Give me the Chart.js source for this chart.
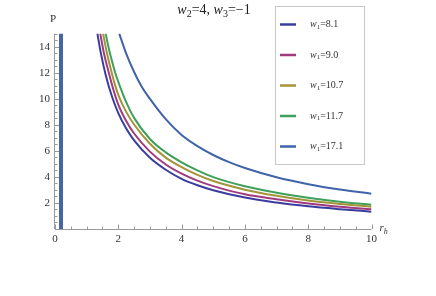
<!DOCTYPE html>
<html>
<head>
<meta charset="utf-8">
<script src="https://cdn.jsdelivr.net/npm/chart.js@4"></script>
<style>
  html, body { margin: 0; padding: 0; background: #fff; }
  canvas { display: block; }
</style>
</head>
<body>
<canvas id="chart" width="436" height="296"></canvas>
<script>
// ---- data ----
const w1Labels = ['8.1', '9.0', '10.7', '11.7', '17.1'];

const rh_81  = [1.34, 1.45, 1.6, 1.8, 2, 2.25, 2.5, 3, 3.5, 4, 4.5, 5, 6, 7, 8, 9, 10];
const p_81   = [15, 13.48, 11.85, 10.17, 8.9, 7.71, 6.8, 5.47, 4.55, 3.85, 3.36, 2.98, 2.41, 2.03, 1.74, 1.52, 1.33];

const rh_90  = [1.43, 1.55, 1.7, 1.85, 2, 2.25, 2.5, 3, 3.5, 4, 4.5, 5, 6, 7, 8, 9, 10];
const p_90   = [15, 13.45, 12.0, 10.65, 9.55, 8.29, 7.33, 5.94, 4.95, 4.25, 3.71, 3.29, 2.66, 2.28, 1.96, 1.71, 1.51];

const rh_107 = [1.52, 1.63, 1.75, 1.88, 2, 2.25, 2.5, 3, 3.5, 4, 4.5, 5, 6, 7, 8, 9, 10];
const p_107  = [15, 13.63, 12.4, 11.2, 10.3, 8.99, 8.02, 6.54, 5.48, 4.75, 4.15, 3.68, 3.02, 2.55, 2.18, 1.92, 1.71];

const rh_117 = [1.6, 1.7, 1.8, 1.9, 2, 2.25, 2.5, 3, 3.5, 4, 4.5, 5, 6, 7, 8, 9, 10];
const p_117  = [15, 13.86, 12.9, 12.02, 11.3, 9.74, 8.53, 6.91, 5.88, 5.12, 4.5, 3.98, 3.28, 2.79, 2.40, 2.10, 1.87];

const rh_171 = [2.03, 2.25, 2.5, 2.75, 3, 3.5, 4, 4.5, 5, 5.5, 6, 7, 8, 9, 10];
const p_171  = [15, 13.46, 12.05, 10.88, 9.99, 8.43, 7.21, 6.36, 5.68, 5.13, 4.68, 3.97, 3.44, 3.03, 2.71];

// the thick vertical line near the P axis
const poleR = [0.19, 0.19];
const poleP = [0, 15];

const xTicks = [0, 2, 4, 6, 8, 10];
const yTicks = [2, 4, 6, 8, 10, 12, 14];

const seriesR = [rh_81, rh_90, rh_107, rh_117, rh_171];
const seriesP = [p_81, p_90, p_107, p_117, p_171];
const colors  = ['#3b3c9f', '#a03c7d', '#a29438', '#3ea05a', '#4064a8'];

// ---- helpers ----
const SERIF = '"Liberation Serif", "DejaVu Serif", serif';

function zip(xs, ys) {
    return xs.map((x, i) => ({ x: x, y: ys[i] }));
}

// draws text made of parts: [text, size, italic, dy]
function richText(ctx, x, y, parts, align) {
    let total = 0;
    parts.forEach(p => {
        ctx.font = (p[2] ? 'italic ' : '') + p[1] + 'px ' + SERIF;
        total += ctx.measureText(p[0]).width;
    });
    let cx = align === 'center' ? x - total / 2 : x;
    ctx.textAlign = 'left';
    parts.forEach(p => {
        ctx.font = (p[2] ? 'italic ' : '') + p[1] + 'px ' + SERIF;
        ctx.fillText(p[0], cx, y + (p[3] || 0));
        cx += ctx.measureText(p[0]).width;
    });
}

// ---- axes, labels, title, legend ----
const decorPlugin = {
    id: 'decor',
    beforeDatasetsDraw(chart) {
        const ctx = chart.ctx;
        const xs = chart.scales.x, ys = chart.scales.y;
        const x0 = xs.getPixelForValue(0), x1 = xs.getPixelForValue(10);
        const y0 = ys.getPixelForValue(0), y1 = ys.getPixelForValue(15);
        ctx.save();
        ctx.strokeStyle = '#9a9a9a';
        ctx.lineWidth = 1;
        ctx.beginPath();
        ctx.moveTo(x0, y0 + 0.5); ctx.lineTo(x1, y0 + 0.5);
        ctx.moveTo(x0 - 0.5, y0); ctx.lineTo(x0 - 0.5, y1);
        // x ticks
        for (let v = 0; v <= 10; v += 0.5) {
            const px = Math.round(xs.getPixelForValue(v)) + 0.5;
            const len = (v % 2 === 0) ? 4.5 : 2.5;
            ctx.moveTo(px, y0); ctx.lineTo(px, y0 - len);
        }
        // y ticks
        for (let v = 0.5; v <= 15; v += 0.5) {
            const py = Math.round(ys.getPixelForValue(v)) + 0.5;
            const len = (v % 2 === 0) ? 4.5 : 2.5;
            ctx.moveTo(x0, py); ctx.lineTo(x0 + len, py);
        }
        ctx.stroke();

        ctx.fillStyle = '#333';
        ctx.font = '11px ' + SERIF;
        ctx.textBaseline = 'middle';
        ctx.textAlign = 'center';
        xTicks.forEach(v => ctx.fillText(String(v), xs.getPixelForValue(v), y0 + 10));
        ctx.textAlign = 'right';
        yTicks.forEach(v => ctx.fillText(String(v), x0 - 5, ys.getPixelForValue(v)));

        // axis names
        ctx.textAlign = 'center';
        ctx.fillText('P', x0 - 2, 19);
        ctx.textBaseline = 'alphabetic';
        richText(ctx, x1 + 8, y0 + 2, [['r', 11, true], ['h', 8, true, 3]], 'left');

        // title
        ctx.fillStyle = '#222';
        richText(ctx, 214, 14, [['w', 14, true], ['2', 10, false, 3], ['=4, ', 14, false],
                                ['w', 14, true], ['3', 10, false, 3], ['=\u22121', 14, false]], 'center');
        ctx.restore();
    },
    afterDraw(chart) {
        const ctx = chart.ctx;
        ctx.save();
        // legend frame
        ctx.fillStyle = '#fff';
        ctx.fillRect(275.5, 6.5, 89, 158);
        ctx.strokeStyle = '#c9c9c9';
        ctx.lineWidth = 1;
        ctx.strokeRect(275.5, 6.5, 89, 158);
        w1Labels.forEach((lab, i) => {
            const y = 24.5 + i * 30.5;
            ctx.strokeStyle = colors[i];
            ctx.lineWidth = 2.5;
            ctx.beginPath();
            ctx.moveTo(280, y); ctx.lineTo(296, y);
            ctx.stroke();
            ctx.fillStyle = '#333';
            ctx.textBaseline = 'middle';
            richText(ctx, 310, y, [['w', 10, true], ['1', 7, false, 2.5], ['=' + lab, 10, false]], 'left');
        });
        ctx.restore();
    }
};

// ---- chart ----
const datasets = seriesR.map((r, i) => ({
    label: 'w1=' + w1Labels[i],
    data: zip(r, seriesP[i]),
    borderColor: colors[i],
    borderWidth: 2,
    pointRadius: 0,
    fill: false,
    cubicInterpolationMode: 'monotone'
}));
datasets.push({
    label: 'pole',
    data: zip(poleR, poleP),
    borderColor: '#4666a3',
    borderWidth: 4,
    pointRadius: 0,
    fill: false
});

new Chart(document.getElementById('chart'), {
    type: 'line',
    data: { datasets: datasets },
    options: {
        responsive: false,
        animation: false,
        layout: { padding: { left: 55, right: 64.5, top: 33.6, bottom: 67 } },
        plugins: { legend: { display: false }, tooltip: { enabled: false } },
        scales: {
            x: { type: 'linear', min: 0, max: 10, display: false },
            y: { type: 'linear', min: 0, max: 15, display: false }
        }
    },
    plugins: [decorPlugin]
});
</script>
</body>
</html>
